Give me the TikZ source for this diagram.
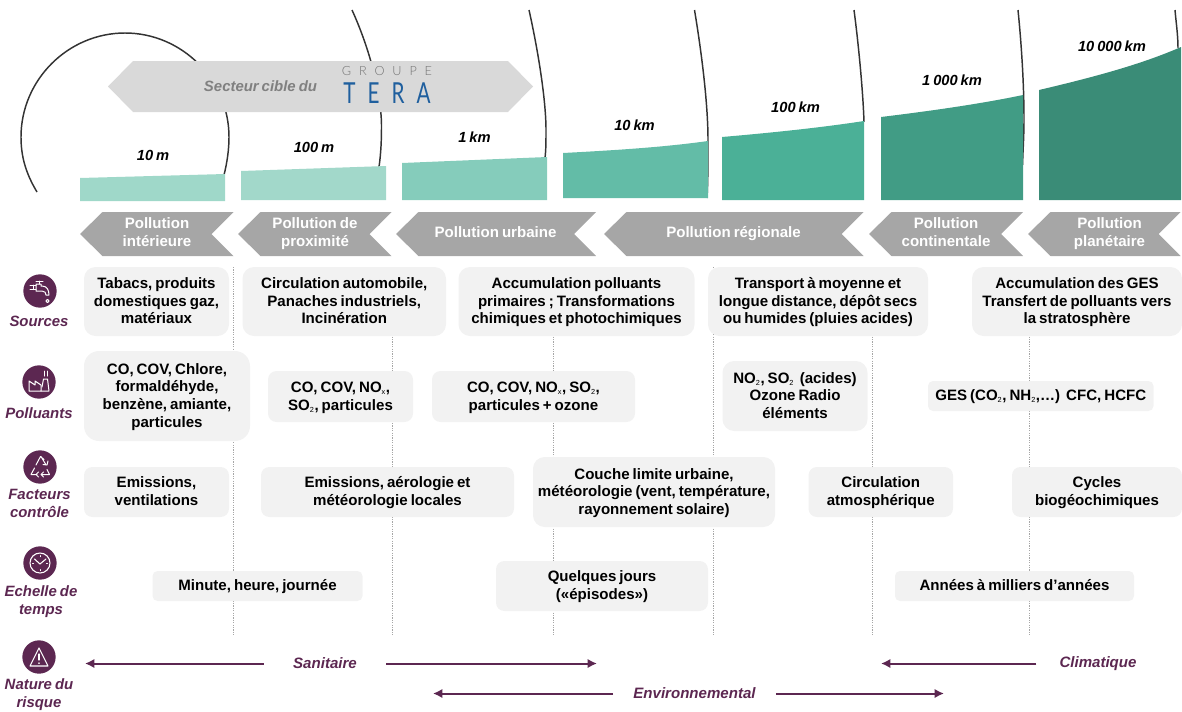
\documentclass[tikz,border=0pt]{standalone}
\usepackage{fontspec}
\setmainfont[WordSpace=0.72]{Liberation Sans}
\newfontfamily\logofont{Lato Light}
\newfontfamily\logobold{Lato}
\usetikzlibrary{arrows.meta}
\definecolor{plum}{HTML}{5C2751}
\definecolor{softgrey}{HTML}{F2F2F2}
\definecolor{chevgrey}{HTML}{A6A6A6}
\definecolor{bandgrey}{HTML}{D9D9D9}
\definecolor{teraBlue}{HTML}{1F5F9E}
\tikzset{
  softbox/.style={fill=softgrey,draw=none,inner sep=0pt},
  softtext/.style={inner sep=0pt,align=center,font=\fontsize{11.3}{13.2}\selectfont\bfseries},
  chevtext/.style={inner sep=0pt,align=center,text=white,font=\fontsize{11.3}{13.8}\selectfont\bfseries},
  chevshape/.style={fill=chevgrey,draw=none},
  scale lbl/.style={inner sep=0pt,font=\fontsize{11}{12}\selectfont\bfseries\itshape},
  rowlbl/.style={inner sep=0pt,align=center,text=plum,font=\fontsize{11.2}{13.4}\selectfont\bfseries\itshape},
  risklbl/.style={inner sep=0pt,text=plum,minimum height=14pt,font=\fontsize{11.3}{13}\selectfont\bfseries\itshape},
  riskarrow/.style={draw=plum,line width=1.5pt,-{Latex[length=7pt,width=7pt]}},
  arcline/.style={draw=black!80,line width=1.1pt},
  guide/.style={draw=black!35,line width=.75pt,dash pattern=on .9pt off .9pt},
  icondisc/.style={circle,fill=plum,draw=none,minimum size=25pt,inner sep=0pt},
  iconline/.style={draw=white,line width=.75pt,line join=round,line cap=round},
}
\newcommand\softnode[6]{%
  \pgfmathsetmacro\bw{(#4-#2)*.75}\pgfmathsetmacro\bh{(#5-#3)*.75}%
  \pgfmathsetmacro\br{min(\bw,\bh)*.1667}%
  \node[softbox,rounded corners=\br pt,minimum width=\bw pt,minimum height=\bh pt] (#1) at ({(#2+#4)/2},{(#3+#5)/2}) {};
  \node[softtext] (#1t) at ([yshift=-.9pt]#1.center) {\strut #6\strut};}
\newcommand\chevron[5]{% name, tip, right, text x, text
  \path[chevshape] (#2,234) -- ({#2+22.5},212) -- (#3,212) -- ({#3-22},234) -- (#3,256) -- ({#2+22.5},256) -- cycle;
  \node[chevtext] (#1) at (#4,233.6) {\strut #5\strut};}
\newcommand\sbs[1]{\raisebox{-.25ex}{\fontsize{5.5}{5}\selectfont\mdseries #1}\kern.4pt}
\begin{document}
\begin{tikzpicture}[x=.75pt,y=-.75pt]
\useasboundingbox (0,0) rectangle (1182,711);
% arcs
\draw[arcline] (37,192) .. controls (25,172) and (21,155) .. (21,137) .. controls (21,80) and (68,33) .. (125,33) .. controls (182,33) and (229,80) .. (229,137) .. controls (229,150) and (227,163) .. (224,175);
\draw[arcline] (352,10) .. controls (368,45) and (381,90) .. (381.5,125) .. controls (381.5,140) and (381,153) .. (379,167);
\draw[arcline] (529,10) .. controls (538,50) and (546,100) .. (546,130) .. controls (546,140) and (546,150) .. (545,158);
\draw[arcline] (694.5,10) .. controls (702,55) and (708,105) .. (708,140) .. controls (708,160) and (708,180) .. (707,198);
\draw[arcline] (854,10) .. controls (858,40) and (863,90) .. (864,122);
\draw[arcline] (1018,10) .. controls (1021,40) and (1024,80) .. (1024,120) .. controls (1024,135) and (1023,150) .. (1022.5,165);
\draw[arcline] (1175,10) .. controls (1176,22) and (1178,35) .. (1178,48);
% scale bars
\definecolor{b1}{HTML}{9FD8C9}\definecolor{b2}{HTML}{A2D8CA}\definecolor{b3}{HTML}{85CCBB}\definecolor{b4}{HTML}{63BCA7}\definecolor{b5}{HTML}{4BB097}\definecolor{b6}{HTML}{419C85}\definecolor{b7}{HTML}{3A8C77}
\fill[b1] (80,178) -- (225,174) -- (225,201) -- (80,201) -- cycle;
\fill[b2] (241,171) -- (386,166) -- (386,200) -- (241,200) -- cycle;
\fill[b3] (402,163) -- (547,157) -- (547,200) -- (402,200) -- cycle;
\fill[b4] (563,153) .. controls (620,150) and (665,147) .. (708,141) -- (708,198) -- (563,198) -- cycle;
\fill[b5] (722,137) .. controls (780,132) and (825,127) .. (864,121) -- (864,200) -- (722,200) -- cycle;
\fill[b6] (881,117) .. controls (930,111) and (980,104) .. (1023,95) -- (1023,200) -- (881,200) -- cycle;
\fill[b7] (1039,90) .. controls (1090,78) and (1140,65) .. (1181,47) -- (1181,200) -- (1039,200) -- cycle;
% scale labels
\node[scale lbl] (s1) at (153,155.5) {10 m};
\node[scale lbl] (s2) at (314,147.5) {100 m};
\node[scale lbl] (s3) at (474.5,137.5) {1 km};
\node[scale lbl] (s4) at (634.5,125.5) {10 km};
\node[scale lbl] (s5) at (795.5,107.5) {100 km};
\node[scale lbl] (s6) at (952,80.5) {1 000 km};
\node[scale lbl] (s7) at (1112,46.5) {10 000 km};
% target band
\fill[bandgrey] (108,86.5) -- (133,61) -- (508,61) -- (533,86.5) -- (508,112) -- (133,112) -- cycle;
\node[inner sep=0pt,text=black!50,font=\fontsize{11.2}{12}\selectfont\bfseries\itshape] (target) at (260.5,86) {Secteur cible du};
\node[inner sep=0pt,text=black!55,font=\fontsize{9.5}{10}\logofont\addfontfeature{LetterSpace=62}] (groupe) at (387,71.5) {GROUPE};
\node[inner sep=0pt,text=teraBlue,yscale=1.4,font=\fontsize{15.5}{16}\logobold\addfontfeature{LetterSpace=58}] (tera) at (387,93.5) {TERA};
% chevrons
\chevron{c1}{80}{233.5}{157}{Pollution\\intérieure}
\chevron{c2}{238}{391.5}{315}{Pollution de\\proximité}
\chevron{c3}{396}{596}{495.5}{Pollution urbaine}
\chevron{c4}{604}{863.5}{733.5}{Pollution régionale}
\chevron{c5}{869}{1023}{946}{Pollution\\continentale}
\chevron{c6}{1028}{1180.5}{1109.5}{Pollution\\planétaire}
% guides
\foreach \gx in {233,392.5,553.5,713,872.5,1029.5} \draw[guide] (\gx,267) -- (\gx,636);
% grey boxes
\softnode{a1}{84}{267}{229}{336}{Tabacs, produits\\domestiques gaz,\\matériaux}
\softnode{a2}{242.5}{267}{446}{336}{Circulation automobile,\\Panaches industriels,\\Incinération}
\softnode{a3}{458.5}{267}{694.5}{336}{Accumulation polluants\\primaires ; Transformations\\chimiques et photochimiques}
\softnode{a4}{708}{267}{928}{336}{Transport à moyenne et\\longue distance, dépôt secs\\ou humides (pluies acides)}
\softnode{a5}{972}{267}{1182}{336}{Accumulation des GES\\Transfert de polluants vers\\la stratosphère}
\softnode{p1}{84}{351}{250}{441}{CO, COV, Chlore,\\formaldéhyde,\\benzène, amiante,\\particules}
\softnode{p2}{268}{371}{413}{422}{CO, COV, NO\sbs{x},\\SO\sbs{2}, particules}
\softnode{p3}{432}{371}{635}{422}{CO, COV, NO\sbs{x}, SO\sbs{2},\\particules + ozone}
\softnode{p4}{722.5}{361}{867.5}{431}{NO\sbs{2}, SO\sbs{2}\kern2pt\ (acides)\\Ozone Radio\\éléments}
\softnode{p5}{928}{381}{1153.5}{411}{GES (CO\sbs{2}, NH\sbs{2},…)\ \ CFC, HCFC}
\softnode{f1}{84}{467}{229}{517}{Emissions,\\ventilations}
\softnode{f2}{261}{467}{514}{517}{Emissions, aérologie et\\météorologie locales}
\softnode{f3}{533}{457}{775}{527}{Couche limite urbaine,\\météorologie (vent, température,\\rayonnement solaire)}
\softnode{f4}{808.5}{467}{953}{517}{Circulation\\atmosphérique}
\softnode{f5}{1012}{467}{1182}{517}{Cycles\\biogéochimiques}
\softnode{t1}{152.5}{571}{362.5}{601}{Minute, heure, journée}
\softnode{t2}{496}{561}{708}{611}{Quelques jours\\(«épisodes»)}
\softnode{t3}{895}{571}{1134}{601}{Années à milliers d’années}
% row icons and labels
\node[icondisc] (i1) at (40,291) {};
\node[icondisc] (i2) at (39,382) {};
\node[icondisc] (i3) at (40,467) {};
\node[icondisc] (i4) at (40,563) {};
\node[icondisc] (i5) at (39,657) {};
\node[rowlbl] (l1) at (39,321) {Sources};
\node[rowlbl] (l2) at (39,413.5) {Polluants};
\node[rowlbl] (l3) at (39.5,503.5) {Facteurs\\contrôle};
\node[rowlbl] (l4) at (41,601.5) {Echelle de\\temps};
\node[rowlbl] (l5) at (39,694.5) {Nature du\\risque};
% faucet
\draw[iconline] (30,285) -- (36,285) (30,289.5) -- (36,289.5) (33,285) -- (33,289.5);
\draw[iconline] (36,284) -- (36,291) -- (42,291) .. controls (45,291) and (46,293) .. (46,295) -- (49,295) .. controls (49,290) and (47,286) .. (42,286) -- (41,286) -- (41,284) -- cycle;
\draw[iconline] (36,281) -- (43,281) (39.5,281) -- (39.5,284);
\draw[iconline] (47.5,301) circle (1.6);
% factory
\draw[iconline] (29,391) -- (29,381) -- (35,385) -- (35,381) -- (41,385) -- (41,391) -- cycle;
\draw[iconline] (41,391) -- (49,391) -- (47.5,379) -- (43.5,379) -- (42,387);
\draw[iconline] (44,371) -- (44,376) (47,371) -- (47,376);
% recycling
\draw[iconline] (36,465) -- (40.5,456.5) -- (44,459.5) (41,456.5) -- (45.5,464) (43,464.5) -- (47,465) -- (48,461);
\draw[iconline] (34.5,468) -- (31,474.5) -- (37,474.5) (38.5,477) -- (36,474.5) -- (38.5,472);
\draw[iconline] (41,474.5) -- (49.5,474.5) -- (47,469.5) (41,474.5) -- (43.5,472) (41,474.5) -- (43.5,477);
% clock
\draw[iconline,line width=.8pt] (40,563) circle (10);
\draw[iconline,line width=.8pt] (34.5,559) -- (40,564) -- (46,559);
\draw[iconline] (40,555.5) -- (40,556.5) (40,569.5) -- (40,570.5) (32.5,563) -- (33.5,563) (46.5,563) -- (47.5,563);
% warning
\draw[iconline,line width=.8pt] (39,648) -- (48,666) -- (30,666) -- cycle;
\draw[iconline,line width=.9pt] (39,654) -- (39,660) (39,663) -- (39,663.3);
% risk labels and arrows
\node[risklbl,minimum width=91.5pt] (san) at (325,663.5) {Sanitaire};
\node[risklbl,minimum width=121.5pt] (env) at (694.5,693.5) {Environnemental};
\node[risklbl,minimum width=92pt] (cli) at (1098,663.5) {Climatique};
\coordinate (sanL) at (85,663.5);
\coordinate (sanR) at (597,663.5);
\coordinate (envL) at (433,693.5);
\coordinate (envR) at (944,693.5);
\coordinate (cliL) at (881,663.5);
\draw[riskarrow] (san.west) -- (sanL);
\draw[riskarrow] (san.east) -- (sanR);
\draw[riskarrow] (env.west) -- (envL);
\draw[riskarrow] (env.east) -- (envR);
\draw[riskarrow] (cli.west) -- (cliL);
\end{tikzpicture}
\end{document}
